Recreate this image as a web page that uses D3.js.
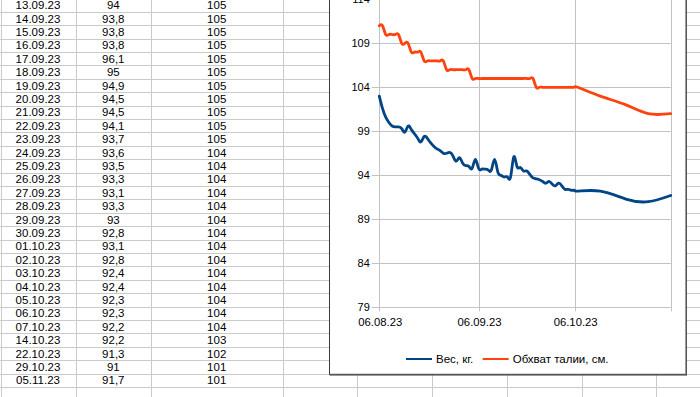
<!DOCTYPE html>
<html><head><meta charset="utf-8">
<script src="https://cdn.jsdelivr.net/npm/d3@7"></script>
<style>html,body{margin:0;padding:0;background:#fff;overflow:hidden}svg{display:block}</style>
</head><body>
<svg id="c" width="700" height="397"></svg>
<script>
const dates = [
"06.08.23","07.08.23","08.08.23","09.08.23","10.08.23","11.08.23","12.08.23","13.08.23","14.08.23","15.08.23",
"16.08.23","17.08.23","18.08.23","19.08.23","20.08.23","21.08.23","22.08.23","23.08.23","24.08.23","25.08.23",
"26.08.23","27.08.23","28.08.23","29.08.23","30.08.23","31.08.23","01.09.23","02.09.23","03.09.23","04.09.23",
"05.09.23","06.09.23","07.09.23","08.09.23","09.09.23","10.09.23","11.09.23","12.09.23",
"13.09.23","14.09.23","15.09.23","16.09.23","17.09.23","18.09.23","19.09.23","20.09.23","21.09.23","22.09.23",
"23.09.23","24.09.23","25.09.23","26.09.23","27.09.23","28.09.23","29.09.23","30.09.23","01.10.23","02.10.23",
"03.10.23","04.10.23","05.10.23","06.10.23","07.10.23","14.10.23","22.10.23","29.10.23","05.11.23"];
const weight = [
103.0,101.6,100.6,100.0,99.6,99.5,99.5,99.3,98.9,99.6,
99.2,98.7,98.2,97.8,98.4,98.2,97.7,97.3,97.0,96.8,
96.5,96.5,96.6,96.2,95.6,96.0,95.4,95.1,95.0,94.8,
95.8,94.8,94.7,94.7,94.6,94.6,95.8,94.4,
94,93.8,93.8,93.8,96.1,95,94.9,94.5,94.5,94.1,
93.7,93.6,93.5,93.3,93.1,93.3,93,92.8,93.1,92.8,
92.4,92.4,92.3,92.3,92.2,92.2,91.3,91,91.7];
const waist = [
111,111,110,110,110,110,110,109,109,109,
108,108,108,108,107,107,107,107,107,107,
107,106,106,106,106,106,106,106,106,105,
105,105,105,105,105,105,105,105,
105,105,105,105,105,105,105,105,105,105,
105,104,104,104,104,104,104,104,104,104,
104,104,104,104,104,103,102,101,101];
const yTicks = [79,84,89,94,99,104,109,114];
const xTickLabels = ["06.08.23","06.09.23","06.10.23"];
const seriesNames = ["Вес, кг.","Обхват талии, см."];
const tableStart = "13.09.23";

const parse = d3.timeParse("%d.%m.%y");
const fmtNum = v => String(v).replace(".", ",");
const svg = d3.select("#c");
const FONT = "'Liberation Sans', Arial, Helvetica, sans-serif";

// ---------- spreadsheet ----------
const gridCol = "#cacaca";
const rowH = 13.4, row0 = -1.7;
const colLines = [0.5, 76, 150.7, 282.7, 357, 432, 507, 582, 656];
const g0 = svg.append("g");
const nRows = 31;
for (let i = 0; i < nRows; i++) {
  const yy = Math.round(row0 + rowH * i) + 0.5;
  g0.append("line").attr("x1", 0).attr("x2", 700).attr("y1", yy).attr("y2", yy)
    .attr("stroke", gridCol).attr("stroke-width", 1);
}
colLines.forEach(cx => {
  const xx = Math.round(cx) + 0.5;
  g0.append("line").attr("x1", xx).attr("x2", xx).attr("y1", 0).attr("y2", 397)
    .attr("stroke", gridCol).attr("stroke-width", 1);
});
const startIdx = dates.indexOf(tableStart);
const tableRows = dates.slice(startIdx).map((d, i) => ({d, w: weight[startIdx + i], t: waist[startIdx + i], i}));
const colCenters = [38, 113.3, 216.7];
const tr = g0.selectAll("g.row").data(tableRows).join("g")
  .attr("transform", r => `translate(0,${row0 + rowH * r.i + rowH / 2 + 4.2})`);
[r => r.d, r => fmtNum(r.w), r => fmtNum(r.t)].forEach((f, k) => {
  tr.append("text").attr("x", colCenters[k]).attr("text-anchor", "middle")
    .attr("font-family", FONT).attr("font-size", "11.5px").attr("fill", "#000").text(f);
});

// ---------- chart frame ----------
const frame = {l: 329.5, r: 686, t: -10, b: 374.3};
svg.append("rect").attr("x", frame.l).attr("y", frame.t)
  .attr("width", frame.r - frame.l).attr("height", frame.b - frame.t)
  .attr("fill", "#fff").attr("stroke", "#3a3a3a").attr("stroke-width", 1);
svg.append("line").attr("x1", frame.r + 0.5).attr("x2", frame.r + 0.5).attr("y1", frame.t).attr("y2", frame.b + 1)
  .attr("stroke", "#555").attr("stroke-width", 1);
svg.append("line").attr("x1", frame.l).attr("x2", frame.r + 1).attr("y1", frame.b + 0.8).attr("y2", frame.b + 0.8)
  .attr("stroke", "#555").attr("stroke-width", 1);

// ---------- plot ----------
const P = {l: 379.3, r: 670.7, t: -0.7, b: 307.3};
const x = d3.scaleTime().domain([parse(dates[0]), parse(dates[dates.length - 1])]).range([P.l, P.r]);
const y = d3.scaleLinear().domain([yTicks[0], yTicks[yTicks.length - 1]]).range([P.b, P.t]);
const gc = svg.append("g");
const gridC = "#c3c3c3";

gc.selectAll("line.h").data(yTicks).join("line")
  .attr("x1", P.l - 7.5).attr("x2", P.r).attr("y1", d => Math.round(y(d)) + 0.5).attr("y2", d => Math.round(y(d)) + 0.5)
  .attr("stroke", gridC).attr("stroke-width", 1);
const xTickDates = xTickLabels.map(parse);
gc.selectAll("line.v").data(xTickDates.concat([x.domain()[1]])).join("line")
  .attr("x1", d => Math.round(x(d)) + 0.5).attr("x2", d => Math.round(x(d)) + 0.5)
  .attr("y1", P.t).attr("y2", P.b + 4)
  .attr("stroke", gridC).attr("stroke-width", 1);

gc.selectAll("text.yl").data(yTicks).join("text")
  .attr("x", P.l - 9.5).attr("y", d => y(d) + 4)
  .attr("text-anchor", "end").attr("font-family", FONT).attr("font-size", "11px").attr("fill", "#000")
  .text(d => d);
gc.selectAll("text.xl").data(xTickLabels).join("text")
  .attr("x", d => x(parse(d)) + 1).attr("y", 325.5)
  .attr("text-anchor", "middle").attr("font-family", FONT).attr("font-size", "11.3px").attr("fill", "#000")
  .text(d => d);

const pts = dates.map((d, i) => ({t: parse(d), w: weight[i], z: waist[i]}));
const colors = ["#004586", "#ff420e"];
const lineW = d3.line().x(d => x(d.t)).y(d => y(d.w)).curve(d3.curveNatural);
const lineZ = d3.line().x(d => x(d.t)).y(d => y(d.z)).curve(d3.curveNatural);
gc.append("path").attr("d", lineZ(pts)).attr("fill", "none").attr("stroke", colors[1])
  .attr("stroke-width", 2.8).attr("stroke-linejoin", "round").attr("stroke-linecap", "round");
gc.append("path").attr("d", lineW(pts)).attr("fill", "none").attr("stroke", colors[0])
  .attr("stroke-width", 2.8).attr("stroke-linejoin", "round").attr("stroke-linecap", "round");

const legX = [406, 482.7], legY = 359;
seriesNames.forEach((n, i) => {
  svg.append("line").attr("x1", legX[i]).attr("x2", legX[i] + 26).attr("y1", legY).attr("y2", legY)
    .attr("stroke", colors[i]).attr("stroke-width", 2);
  svg.append("text").attr("x", legX[i] + 30).attr("y", legY + 4.2)
    .attr("font-family", FONT).attr("font-size", "11.5px").attr("fill", "#000").text(n);
});
</script>
</body></html>
